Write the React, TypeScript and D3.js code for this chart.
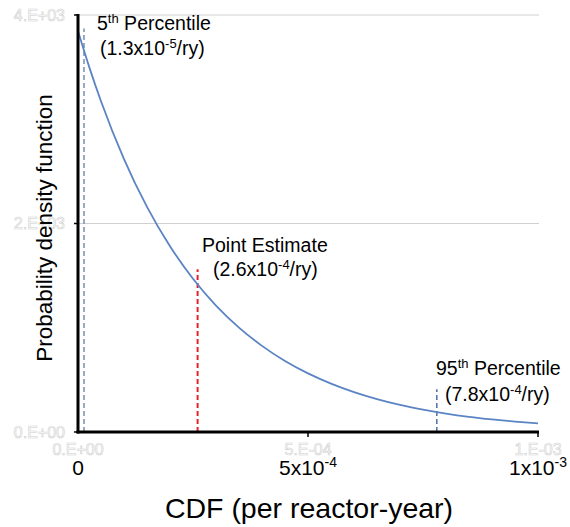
import React from "react";
import * as d3 from "d3";

// Probability density of core damage frequency, sampled along the x axis
const cdfValues = [0, 0.25e-4, 0.5e-4, 1.0e-4, 1.5e-4, 2.0e-4, 2.5e-4, 3.0e-4, 3.5e-4, 4.0e-4, 4.5e-4, 5.0e-4, 5.5e-4, 6.0e-4, 6.5e-4, 7.0e-4, 7.5e-4, 8.0e-4, 8.5e-4, 9.0e-4, 9.5e-4, 1.0e-3];
const densityValues = [3846, 3493, 3173, 2618, 2160, 1782, 1470, 1213, 1001, 826, 681, 562, 464, 383, 316, 260, 215, 177, 146, 121, 100, 82];

// Reference lines: x position, top of line (density), colour
const markerNames = ["p5", "point", "p95"];
const markerX = [1.3e-5, 2.6e-4, 7.8e-4];
const markerTop = [3870, 1560, 410];
const markerColors = ["#7f95b5", "#e8202a", "#5878a8"];

const xTicks = [0, 5e-4, 1e-3];
const xTickText = ["0.E+00", "5.E-04", "1.E-03"];
const xTickBase = ["0", "5x10", "1x10"];
const xTickExp = ["", "-4", "-3"];
const yTicks = [0, 2000, 4000];
const yTickText = ["0.E+00", "2.E+03", "4.E+03"];

const W = 570;
const H = 527;
const FONT = "'Liberation Sans', Arial, sans-serif";
const ANN = 19.5;
const SUP = 13;

export default function App() {
  const x = d3.scaleLinear().domain([0, 1e-3]).range([78, 538]);
  const y = d3.scaleLinear().domain([0, 4000]).range([432, 15]);
  const line = d3
    .line<number>()
    .x((_, i) => x(cdfValues[i]))
    .y((d) => y(d))
    .curve(d3.curveMonotoneX);

  return (
    <svg
      width={W}
      height={H}
      style={{ position: "absolute", left: 0, top: 0, background: "#fff" }}
      fontFamily={FONT}
    >
      {/* gridlines */}
      {yTicks.slice(1).map((t) => (
        <line key={t} x1={x(0)} x2={539} y1={y(t)} y2={y(t)} stroke="#d0d0d0" strokeWidth={1} />
      ))}

      {/* faint y tick labels */}
      {yTicks.map((t, i) => (
        <text
          key={t}
          x={65}
          y={y(t)}
          dy="0.35em"
          textAnchor="end"
          fontSize={16}
          fill="#fff"
          stroke="#cfcfcf"
          strokeWidth={0.6}
        >
          {yTickText[i]}
        </text>
      ))}

      {/* faint x tick labels */}
      {xTicks.map((t, i) => (
        <text
          key={t}
          x={x(t)}
          y={449}
          dy="0.35em"
          textAnchor="middle"
          fontSize={16}
          fill="#fff"
          stroke="#cfcfcf"
          strokeWidth={0.6}
        >
          {xTickText[i]}
        </text>
      ))}

      {/* reference dashed lines */}
      {markerNames.map((n, i) => (
        <line
          key={n}
          x1={x(markerX[i])}
          x2={x(markerX[i])}
          y1={y(0)}
          y2={y(markerTop[i])}
          stroke={markerColors[i]}
          strokeWidth={n === "point" ? 2 : 1.6}
          strokeDasharray="5,3"
        />
      ))}

      {/* density curve */}
      <path d={line(densityValues) || ""} fill="none" stroke="#5b84c4" strokeWidth={1.8} />

      {/* axes */}
      {yTicks.map((t) => (
        <line key={t} x1={74} x2={x(0)} y1={y(t)} y2={y(t)} stroke="#000" strokeWidth={1.5} />
      ))}
      {xTicks.slice(1).map((t) => (
        <line key={t} x1={x(t)} x2={x(t)} y1={y(0)} y2={y(0) + 5} stroke="#000" strokeWidth={1.5} />
      ))}
      <line x1={x(0)} x2={x(0)} y1={y(4000) - 1} y2={y(0) + 1.5} stroke="#000" strokeWidth={3} />
      <line x1={x(0) - 1.5} x2={x(1e-3) + 1} y1={y(0)} y2={y(0)} stroke="#000" strokeWidth={3} />

      {/* x tick labels */}
      {xTicks.map((t, i) => (
        <text key={t} x={x(t)} y={475} textAnchor="middle" fontSize={21} fill="#000">
          {xTickBase[i]}
          {xTickExp[i] && (
            <tspan fontSize={14} dy={-8}>
              {xTickExp[i]}
            </tspan>
          )}
        </text>
      ))}

      {/* annotations */}
      <text x={97} y={30} fontSize={ANN} fill="#000">
        5<tspan fontSize={SUP} dy={-7}>th</tspan>
        <tspan dy={7}> Percentile</tspan>
      </text>
      <text x={100} y={55} fontSize={ANN} fill="#000">
        (1.3x10<tspan fontSize={SUP} dy={-7}>-5</tspan>
        <tspan dy={7}>/ry)</tspan>
      </text>

      <text x={202} y={252} fontSize={ANN} fill="#000">
        Point Estimate
      </text>
      <text x={213} y={276} fontSize={ANN} fill="#000">
        (2.6x10<tspan fontSize={SUP} dy={-7}>-4</tspan>
        <tspan dy={7}>/ry)</tspan>
      </text>

      <text x={436} y={375} fontSize={ANN} fill="#000">
        95<tspan fontSize={SUP} dy={-7}>th</tspan>
        <tspan dy={7}> Percentile</tspan>
      </text>
      <text x={445} y={401} fontSize={ANN} fill="#000">
        (7.8x10<tspan fontSize={SUP} dy={-7}>-4</tspan>
        <tspan dy={7}>/ry)</tspan>
      </text>

      {/* axis titles */}
      <text x={309} y={518} textAnchor="middle" fontSize={28.5} fill="#000">
        CDF (per reactor-year)
      </text>
      <text
        transform={`translate(52,228) rotate(-90)`}
        textAnchor="middle"
        fontSize={22.5}
        fill="#000"
      >
        Probability density function
      </text>
    </svg>
  );
}
